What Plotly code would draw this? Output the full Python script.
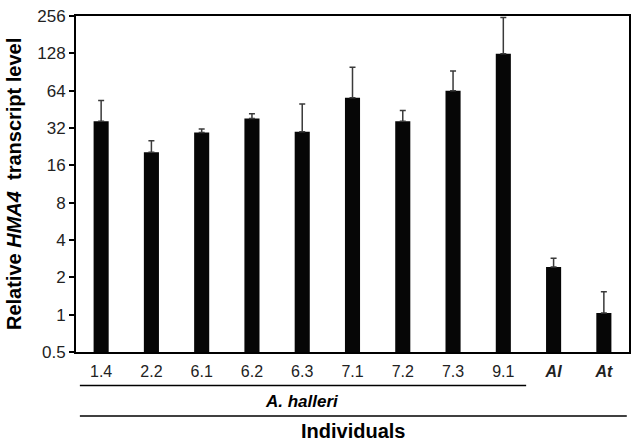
import plotly.graph_objects as go

# Données
individuals = ["1.4", "2.2", "6.1", "6.2", "6.3", "7.1", "7.2", "7.3", "9.1", "Al", "At"]
tick_labels = ["1.4", "2.2", "6.1", "6.2", "6.3", "7.1", "7.2", "7.3", "9.1",
               "<b><i>Al</i></b>", "<b><i>At</i></b>"]
expression = [36.3, 20.4, 29.4, 38.1, 29.9, 56.0, 36.3, 64.0, 127.0, 2.42, 1.03]
error_up = [17.0, 4.9, 2.0, 3.5, 20.0, 43.0, 8.0, 28.0, 122.0, 0.43, 0.5]
y_ticks = [0.5, 1, 2, 4, 8, 16, 32, 64, 128, 256]

FONT = "Liberation Sans, Arial, sans-serif"

fig = go.Figure()
fig.add_trace(go.Bar(
    x=individuals, y=expression,
    marker=dict(color="#060606", line=dict(width=0)),
    error_y=dict(type="data", symmetric=False, array=error_up,
                 arrayminus=[0] * len(error_up),
                 color="#3a3a3a", thickness=1.5, width=3),
))

fig.update_layout(
    width=638, height=447,
    margin=dict(l=76, r=7, t=11, b=95),
    plot_bgcolor="white", paper_bgcolor="white",
    font=dict(family=FONT, size=16, color="black"),
    bargap=0.70,
    showlegend=False,
)

fig.update_xaxes(
    tickvals=individuals, ticktext=tick_labels,
    showline=True, linecolor="black", linewidth=2, mirror=True,
    ticks="outside", ticklen=4, tickcolor="rgba(0,0,0,0)",
    tickfont=dict(size=16, color="#222"),
    showgrid=False,
)
fig.update_yaxes(
    type="log", range=[-0.30103, 2.40824],
    tickvals=y_ticks, ticktext=[str(v) for v in y_ticks],
    showline=True, linecolor="black", linewidth=2, mirror=True,
    ticks="outside", ticklen=5, tickwidth=1.5, tickcolor="black",
    tickfont=dict(size=17, color="#222"),
    showgrid=False, zeroline=False,
)

# Titre de l'axe y
fig.add_annotation(
    text="<b>Relative <i>HMA4</i>  transcript level</b>",
    xref="paper", yref="paper", x=-0.112, y=0.5,
    xanchor="center", yanchor="middle", textangle=-90,
    showarrow=False, font=dict(size=20, family=FONT),
)

# Groupes sous l'axe x
fig.add_shape(type="line", xref="paper", yref="paper",
              x0=0.007, x1=0.814, y0=-0.0997, y1=-0.0997,
              line=dict(color="black", width=1.5))
fig.add_annotation(text="<b><i>A. halleri</i></b>", xref="paper", yref="paper",
                   x=0.409, y=-0.147, xanchor="center", yanchor="middle",
                   showarrow=False, font=dict(size=17, family=FONT))
fig.add_shape(type="line", xref="paper", yref="paper",
              x0=0.007, x1=0.996, y0=-0.1906, y1=-0.1906,
              line=dict(color="black", width=1.5))
fig.add_annotation(text="<b>Individuals</b>", xref="paper", yref="paper",
                   x=0.50, y=-0.235, xanchor="center", yanchor="middle",
                   showarrow=False, font=dict(size=20, family=FONT))

fig.write_html("out.html", config={"displayModeBar": False},
               post_script="document.body.style.margin='0';")
